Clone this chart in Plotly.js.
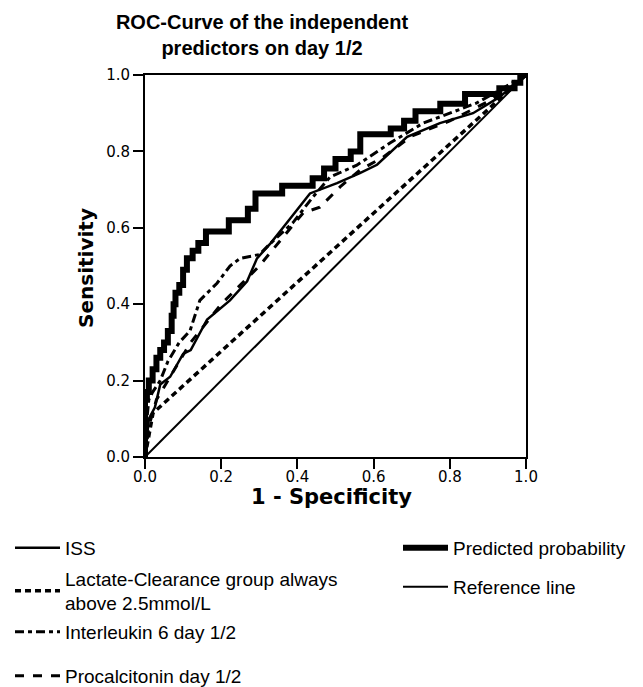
<!DOCTYPE html>
<html>
<head>
<meta charset="utf-8">
<script src="https://cdn.plot.ly/plotly-3.0.1.min.js"></script>
<style>html,body{margin:0;padding:0;background:#fff;}#chart{width:643px;height:687px;}</style>
</head>
<body>
<div id="chart"></div>
<script>
// ---- Data (1 - Specificity, Sensitivity) ----
const seriesNames = [
  "ISS",
  "Lactate-Clearance group always<br>above 2.5mmol/L",
  "Interleukin 6 day 1/2",
  "Procalcitonin day 1/2",
  "Predicted probability",
  "Reference line"
];

// Predicted probability (step curve, corner points)
const predFpr = [0, 0, 0.005, 0.01, 0.02, 0.03, 0.04, 0.05, 0.06, 0.07, 0.075, 0.08, 0.09, 0.10, 0.11, 0.125, 0.14, 0.16, 0.22, 0.27, 0.29, 0.36, 0.44, 0.47, 0.50, 0.54, 0.565, 0.645, 0.68, 0.71, 0.775, 0.84, 0.93, 0.97, 0.985, 1];
const predTpr = [0, 0.15, 0.17, 0.20, 0.23, 0.26, 0.28, 0.30, 0.33, 0.37, 0.40, 0.43, 0.45, 0.49, 0.52, 0.54, 0.56, 0.59, 0.62, 0.65, 0.69, 0.71, 0.73, 0.755, 0.78, 0.80, 0.845, 0.86, 0.88, 0.905, 0.925, 0.95, 0.965, 0.98, 1, 1];

// ISS
const issFpr = [0, 0.005, 0.01, 0.026, 0.04, 0.066, 0.10, 0.12, 0.163, 0.223, 0.268, 0.294, 0.33, 0.362, 0.433, 0.504, 0.564, 0.609, 0.661, 0.688, 0.774, 0.861, 0.93, 1];
const issTpr = [0, 0.05, 0.10, 0.13, 0.19, 0.21, 0.27, 0.28, 0.36, 0.41, 0.46, 0.52, 0.56, 0.60, 0.69, 0.717, 0.743, 0.765, 0.812, 0.838, 0.874, 0.90, 0.942, 1];

// Lactate-Clearance group (binary)
const lacFpr = [0, 0.021, 1];
const lacTpr = [0, 0.115, 1];

// Interleukin 6 day 1/2
const il6Fpr = [0, 0.005, 0.01, 0.02, 0.04, 0.06, 0.09, 0.118, 0.144, 0.189, 0.223, 0.25, 0.30, 0.33, 0.388, 0.44, 0.486, 0.556, 0.643, 0.73, 0.80, 0.871, 0.93, 1];
const il6Tpr = [0, 0.10, 0.15, 0.17, 0.20, 0.25, 0.30, 0.33, 0.41, 0.455, 0.50, 0.52, 0.53, 0.56, 0.613, 0.68, 0.733, 0.764, 0.822, 0.874, 0.90, 0.927, 0.96, 1];

// Procalcitonin day 1/2
const pctFpr = [0, 0.01, 0.03, 0.06, 0.09, 0.12, 0.16, 0.20, 0.25, 0.30, 0.328, 0.362, 0.415, 0.459, 0.512, 0.564, 0.625, 0.70, 0.80, 0.90, 0.95, 1];
const pctTpr = [0, 0.08, 0.15, 0.20, 0.25, 0.30, 0.35, 0.40, 0.45, 0.50, 0.534, 0.576, 0.639, 0.654, 0.707, 0.751, 0.785, 0.84, 0.88, 0.93, 0.96, 1];

// Reference line
const refFpr = [0, 1];
const refTpr = [0, 1];

const tickVals = [0, 0.2, 0.4, 0.6, 0.8, 1.0];
const tickText = ["0.0", "0.2", "0.4", "0.6", "0.8", "1.0"];

const titleText = "ROC-Curve of the independent<br>predictors on day 1/2";
const xTitle = "1 - Specificity";
const yTitle = "Sensitivity";

// ---- Traces ----
const traces = [
  {x: refFpr, y: refTpr, name: seriesNames[5], legend: "legend6", mode: "lines",
   line: {color: "#000", width: 2}},
  {x: lacFpr, y: lacTpr, name: seriesNames[1], legend: "legend2", mode: "lines",
   line: {color: "#000", width: 3.5, dash: "6px,4px"}},
  {x: pctFpr, y: pctTpr, name: seriesNames[3], legend: "legend4", mode: "lines",
   line: {color: "#000", width: 3, dash: "9px,9px"}},
  {x: il6Fpr, y: il6Tpr, name: seriesNames[2], legend: "legend3", mode: "lines",
   line: {color: "#000", width: 3, dash: "9px,4px,4px,4px"}},
  {x: issFpr, y: issTpr, name: seriesNames[0], legend: "legend", mode: "lines",
   line: {color: "#000", width: 2.5}},
  {x: predFpr, y: predTpr, name: seriesNames[4], legend: "legend5", mode: "lines",
   line: {color: "#000", width: 6, shape: "hv"}}
];

const legFont = {family: "Liberation Sans, Arial, sans-serif", size: 19, color: "#000"};
function leg(xpx, ypx) {
  return {xref: "container", yref: "container", x: xpx / 643, y: 1 - ypx / 687,
          xanchor: "left", yanchor: "middle", font: legFont, bgcolor: "rgba(0,0,0,0)",
          borderwidth: 0, itemwidth: 45, itemclick: false, itemdoubleclick: false};
}

const axisCommon = {
  range: [0, 1], tickvals: tickVals, ticktext: tickText,
  showgrid: false, zeroline: false, showline: true, linecolor: "#000", linewidth: 2,
  mirror: true, ticks: "outside", ticklen: 10, tickwidth: 2, tickcolor: "#000",
  tickfont: {family: "DejaVu Sans, sans-serif", size: 15, color: "#000"}
};

const axisTitleFont = {family: "DejaVu Sans, sans-serif", color: "#000", weight: "bold"};

const layout = {
  width: 643, height: 687,
  margin: {l: 145, r: 117, t: 75, b: 230, pad: 0, autoexpand: false},
  paper_bgcolor: "#fff", plot_bgcolor: "#fff",
  title: {text: titleText, xref: "container", yref: "container", x: 262 / 643, xanchor: "center",
          y: 1 - 29 / 687, yanchor: "top",
          font: {family: "Liberation Sans, Arial, sans-serif", size: 20, color: "#000", weight: "bold"}},
  xaxis: Object.assign({}, axisCommon, {ticklabelstandoff: -5}),
  yaxis: Object.assign({}, axisCommon, {}),
  annotations: [
    {text: xTitle, xref: "paper", yref: "paper", x: 0.49, y: -(497 - 457) / 382,
     xanchor: "center", yanchor: "middle", showarrow: false,
     font: Object.assign({size: 21}, axisTitleFont)},
    {text: yTitle, xref: "paper", yref: "paper", x: -(145 - 86) / 381, y: 0.495,
     xanchor: "center", yanchor: "middle", showarrow: false, textangle: -90,
     font: Object.assign({size: 20}, axisTitleFont)}
  ],
  showlegend: true,
  legend: leg(10, 548),
  legend2: leg(10, 591),
  legend3: leg(10, 632),
  legend4: leg(10, 676),
  legend5: leg(398, 548),
  legend6: leg(398, 587)
};

Plotly.newPlot("chart", traces, layout, {displayModeBar: false, staticPlot: true});
</script>
</body>
</html>
